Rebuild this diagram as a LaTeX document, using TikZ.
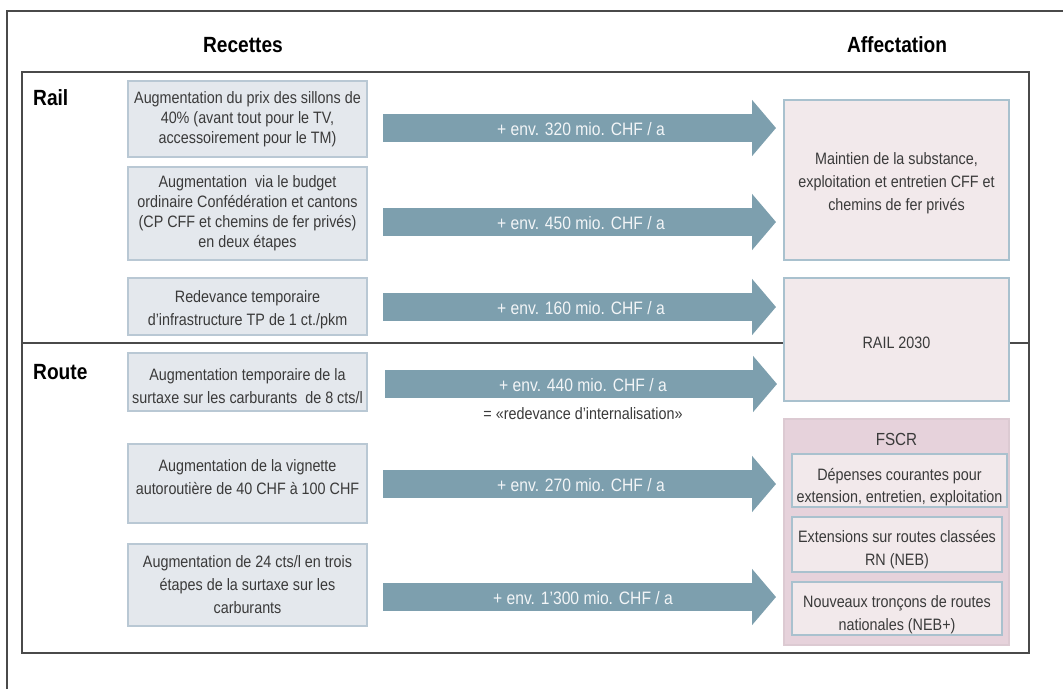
\documentclass[tikz,border=0pt]{standalone}
\usepackage{fontspec}
\setmainfont{Liberation Sans}[FakeStretch=0.87]
\usetikzlibrary{arrows.meta}
\definecolor{framecol}{HTML}{4A4A4A}
\definecolor{lboxline}{HTML}{B9C8D4}
\definecolor{lboxfill}{HTML}{E4E8ED}
\definecolor{rboxline}{HTML}{A9C1CE}
\definecolor{rboxfill}{HTML}{F2E9EB}
\definecolor{fscrfill}{HTML}{E6D2DB}
\definecolor{fscrline}{HTML}{DCCAD2}
\definecolor{arrowcol}{HTML}{7D9FAE}
\definecolor{textgray}{HTML}{3A3A3A}
\newcommand\boxfont{\fontsize{16.5}{20}\selectfont}
\newcommand\boxfontB{\fontsize{16.5}{23}\selectfont}
\newcommand\arrowfont{\fontsize{18}{20}\selectfont}
\newcommand\headfont{\fontsize{22}{24}\selectfont\bfseries}
\tikzset{
  lbox/.style={draw=lboxline, fill=lboxfill, line width=1.4pt, inner sep=0pt, align=center, font=\boxfont, text=textgray},
  rbox/.style={draw=rboxline, fill=rboxfill, line width=1.4pt, inner sep=0pt, align=center, font=\boxfontB, text=textgray},
  fscrbox/.style={draw=fscrline, fill=fscrfill, line width=1.4pt, inner sep=0pt},
  txt/.style={inner sep=0pt, align=center, font=\boxfont, text=textgray},
  txtB/.style={inner sep=0pt, align=center, font=\boxfontB, text=textgray},
  head/.style={inner sep=0pt, font=\headfont, text=black},
  bigarrow/.style={draw=arrowcol, line width=28pt, -{Triangle[length=24pt,width=55pt]}},
  alab/.style={font=\arrowfont, text=white!90!arrowcol, inner sep=0pt},
  framel/.style={draw=framecol, line width=1.6pt}
}
\begin{document}
\begin{tikzpicture}[x=1pt,y=-1pt]
\useasboundingbox (0,0) rectangle (1063,689);
\fill[white] (0,0) rectangle (1063,689);
% frames
\draw[framel] (7,689) -- (7,11) -- (1063,11);
\draw[framel, line width=2pt] (22,72) rectangle (1029,653);
\draw[framel, line width=2pt] (22,343) -- (1029,343);
% headers
\node[head] (hrec) at (243,45) {Recettes};
\node[head] (haff) at (897,45) {Affectation};
\node[head, anchor=west] (hrail) at (33,98) {Rail};
\node[head, anchor=west] (hroute) at (33,372) {Route};
% left boxes
\node[lbox, minimum width=239pt, minimum height=76pt] (b1) at (247.5,119)
  {Augmentation du prix des sillons de\\40\% (avant tout pour le TV,\\accessoirement pour le TM)};
\node[lbox, minimum width=239pt, minimum height=93pt] (b2) at (247.5,213.5)
  {Augmentation\ \ via le budget\\ordinaire Confédération et cantons\\(CP CFF et chemins de fer privés)\\en deux étapes};
\node[lbox, font=\boxfontB, minimum width=239pt, minimum height=57pt] (b3) at (247.5,306.5) {};
\node[txtB] (t3) at (247.5,310) {Redevance temporaire\\d'infrastructure TP de 1 ct./pkm};
\node[lbox, minimum width=239pt, minimum height=58pt] (b4) at (247.5,382) {};
\node[txtB] (t4) at (247.5,386.5) {Augmentation temporaire de la\\surtaxe sur les carburants\ \ de 8 cts/l};
\node[lbox, minimum width=239pt, minimum height=79pt] (b5) at (247.5,483.5) {};
\node[txtB] (t5) at (247.5,477) {Augmentation de la vignette\\autoroutière de 40 CHF à 100 CHF};
\node[lbox, font=\boxfontB, minimum width=239pt, minimum height=82pt] (b6) at (247.5,585)
  {Augmentation de 24 cts/l en trois\\étapes de la surtaxe sur les\\carburants};
% right boxes
\node[rbox, minimum width=225pt, minimum height=160pt] (ra) at (896.5,180) {};
\node[txtB] (tra) at (896.5,183.5) {Maintien de la substance,\\exploitation et entretien CFF et\\chemins de fer privés};
\node[rbox, minimum width=225pt, minimum height=123pt] (rb) at (896.5,339.5) {};
\node[txt] (trb) at (896.5,343) {RAIL 2030};
\node[fscrbox, minimum width=225pt, minimum height=226pt] (fscr) at (896.5,532) {};
\node[txt, font=\fontsize{17.5}{20}\selectfont] (tfscr) at (896.5,439) {FSCR};
\node[rbox, minimum width=215pt, minimum height=53pt] (i1) at (899.5,480.5) {};
\node[txt, font=\fontsize{16.5}{22}\selectfont] (ti1) at (899.5,487) {Dépenses courantes pour\\extension, entretien, exploitation};
\node[rbox, minimum width=210pt, minimum height=55pt] (i2) at (897,544.5) {};
\node[txt, font=\fontsize{16.5}{22.5}\selectfont] (ti2) at (897,549.5) {Extensions sur routes classées\\RN (NEB)};
\node[rbox, minimum width=210pt, minimum height=53pt] (i3) at (897,608.5) {};
\node[txt, font=\fontsize{16.5}{22.5}\selectfont] (ti3) at (897,614.5) {Nouveaux tronçons de routes\\nationales (NEB+)};
% arrows
\coordinate (s1) at (383,128); \coordinate (e1) at (776,128);
\coordinate (s2) at (383,222); \coordinate (e2) at (776,222);
\coordinate (s3) at (383,307); \coordinate (e3) at (776,307);
\coordinate (s4) at (385,384); \coordinate (e4) at (777,384);
\coordinate (s5) at (383,484); \coordinate (e5) at (776,484);
\coordinate (s6) at (383,597); \coordinate (e6) at (776,597);
\draw[bigarrow] (s1) -- (e1);
\draw[bigarrow] (s2) -- (e2);
\draw[bigarrow] (s3) -- (e3);
\draw[bigarrow] (s4) -- (e4);
\draw[bigarrow] (s5) -- (e5);
\draw[bigarrow] (s6) -- (e6);
\node[alab] (l1) at (581,129) {+ env. 320 mio. CHF / a};
\node[alab] (l2) at (581,223) {+ env. 450 mio. CHF / a};
\node[alab] (l3) at (581,308) {+ env. 160 mio. CHF / a};
\node[alab] (l4) at (583,385) {+ env. 440 mio. CHF / a};
\node[alab] (l5) at (581,485) {+ env. 270 mio. CHF / a};
\node[alab] (l6) at (583,598) {+ env. 1'300 mio. CHF / a};
\node[txt] (redev) at (583,414) {= «redevance d'internalisation»};
\end{tikzpicture}
\end{document}
